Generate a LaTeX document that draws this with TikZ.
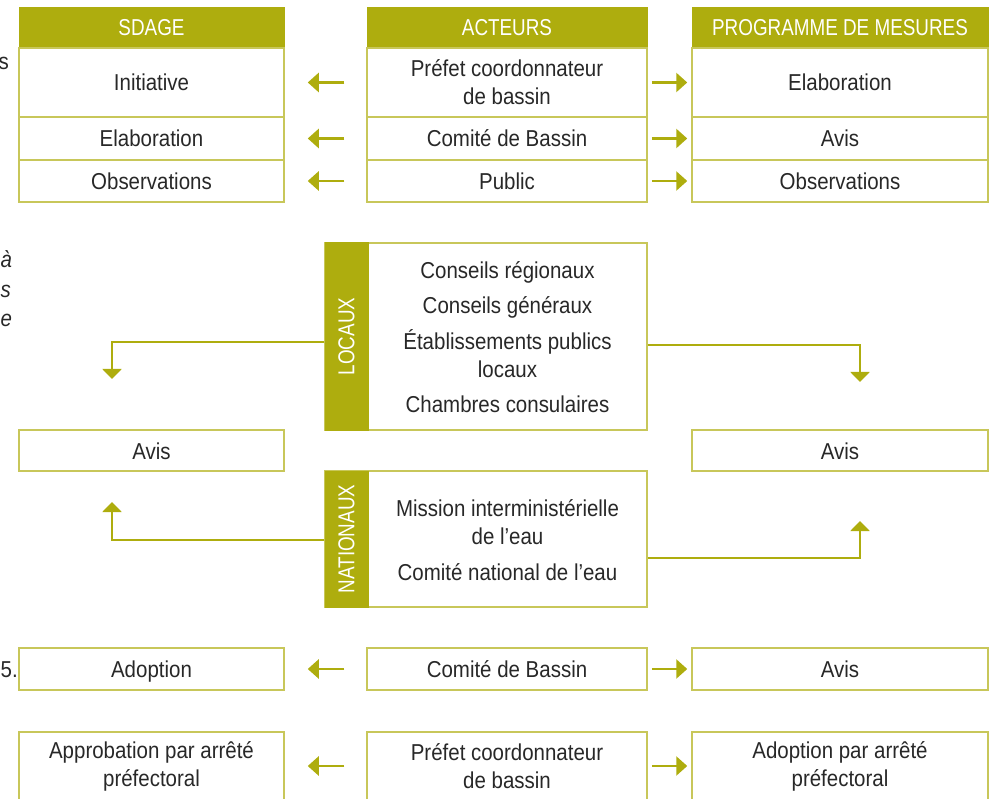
\documentclass[tikz,border=0pt]{standalone}
\usepackage{fontspec}
\setmainfont[FakeStretch=0.89]{Liberation Sans}
\newfontfamily\hdrfont[FakeStretch=0.82]{Liberation Sans}
\usetikzlibrary{arrows.meta}
\definecolor{oliv}{RGB}{174,173,14}
\definecolor{bord}{RGB}{200,199,90}
\definecolor{txt}{RGB}{40,40,40}
\tikzset{
  sz/.style 2 args={minimum width=#1pt, minimum height=#2pt},
  cell/.style={draw=bord, line width=1.5pt, fill=white, text=txt, align=center, inner sep=0pt},
  one/.style={cell, text height=17pt, text depth=0pt},
  hdr/.style={draw=oliv, line width=1pt, fill=oliv, text=white, inner sep=0pt, font=\hdrfont\fontsize{23}{28}\selectfont},
  arr/.style={draw=oliv, line width=2.5pt, -{Triangle[length=11pt,width=19pt]}},
  conn/.style={draw=oliv, line width=2pt, line join=miter, -{Triangle[length=10pt,width=19pt]}},
  frag/.style={text=txt, inner sep=0pt},
}
\begin{document}
\begin{tikzpicture}[x=1pt,y=1pt, font=\fontsize{23}{28}\selectfont]
\useasboundingbox (0,0) rectangle (996,-799);
\clip (0,0) rectangle (996,-799);

% fragments of text at the left edge
\node[frag, anchor=base east] (f1) at (9,-70) {s};
\node[frag, anchor=base west] (f2) at (0.5,-268) {\itshape à};
\node[frag, anchor=base west] (f3) at (0.5,-298) {\itshape s};
\node[frag, anchor=base west] (f4) at (0.5,-327) {\itshape e};
\node[frag, anchor=base west] (f5) at (0.5,-677) {5.};

% ---- top table ----
\node[hdr, sz={265}{40}] (sH) at (151.5,-28) {SDAGE};
\node[hdr, sz={280}{40}] (cH) at (507,-28) {ACTEURS};
\node[hdr, sz={296}{40}] (rH) at (840,-28) {PROGRAMME DE MESURES};

\node[one, sz={265}{69}] (s1) at (151.5,-82.5) {Initiative};
\node[one, sz={265}{43}] (s2) at (151.5,-138.5) {Elaboration};
\node[one, sz={265}{42}] (s3) at (151.5,-181) {Observations};

\node[cell, sz={280}{69}] (c1) at (507,-82.5) {Préfet coordonnateur\\de bassin};
\node[one, sz={280}{43}] (c2) at (507,-138.5) {Comité de Bassin};
\node[one, sz={280}{42}] (c3) at (507,-181) {Public};

\node[one, sz={296}{69}] (r1) at (840,-82.5) {Elaboration};
\node[one, sz={296}{43}] (r2) at (840,-138.5) {Avis};
\node[one, sz={296}{42}] (r3) at (840,-181) {Observations};

\foreach \i in {1,2,3}{
  \draw[arr, shorten <=22pt, shorten >=23pt] (c\i.west) -- (s\i.east);
  \draw[arr, shorten <=4pt, shorten >=4pt] (c\i.east) -- (r\i.west);
}

% ---- middle ----
\node[cell, sz={322}{187}] (loc) at (486,-336.5) {};
\node[hdr, rotate=90, sz={187}{43}] (locS) at (346.5,-336.5) {LOCAUX};
\node[text=txt, align=center, inner sep=0pt] (locT) at (507.5,-337)
  {Conseils régionaux\\[7pt]Conseils généraux\\[8pt]Établissements publics\\locaux\\[7pt]Chambres consulaires};

\node[cell, sz={322}{136}] (nat) at (486,-539) {};
\node[hdr, rotate=90, sz={136}{43}] (natS) at (346.5,-539) {NATIONAUX};
\node[text=txt, align=center, inner sep=0pt] (natT) at (507.5,-540)
  {Mission interministérielle\\de l’eau\\[8pt]Comité national de l’eau};

\node[one, sz={265}{41}] (avL) at (151.5,-450.5) {Avis};
\node[one, sz={296}{41}] (avR) at (840,-450.5) {Avis};

\coordinate (tL1) at (112,-379);
\coordinate (tR1) at (860,-382);
\coordinate (tL2) at (112,-502);
\coordinate (tR2) at (860,-521);

\draw[conn] ([yshift=-5.5pt]loc.west) -| (tL1);
\draw[conn] ([yshift=-8.5pt]loc.east) -| (tR1);
\draw[conn] ([yshift=-1pt]nat.west) -| (tL2);
\draw[conn] ([yshift=-19pt]nat.east) -| (tR2);

% ---- bottom ----
\node[one, sz={265}{42}] (b1L) at (151.5,-669) {Adoption};
\node[one, sz={280}{42}] (b1C) at (507,-669) {Comité de Bassin};
\node[one, sz={296}{42}] (b1R) at (840,-669) {Avis};

\node[cell, sz={265}{68}] (b2L) at (151.5,-766) {Approbation par arrêté\\préfectoral};
\node[cell, sz={280}{68}] (b2C) at (507,-766) {Préfet coordonnateur\\de bassin};
\node[cell, sz={296}{68}] (b2R) at (840,-766) {Adoption par arrêté\\préfectoral};

\draw[arr, shorten <=22pt, shorten >=23pt] (b1C.west) -- (b1L.east);
\draw[arr, shorten <=4pt, shorten >=4pt] (b1C.east) -- (b1R.west);
\draw[arr, shorten <=22pt, shorten >=23pt] (b2C.west) -- (b2L.east);
\draw[arr, shorten <=4pt, shorten >=4pt] (b2C.east) -- (b2R.west);
\end{tikzpicture}
\end{document}
